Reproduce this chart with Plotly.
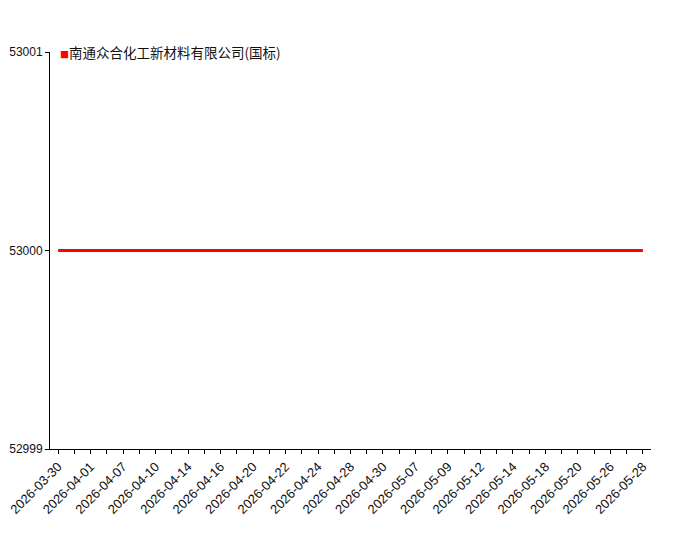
import plotly.graph_objects as go

# 37 trading dates (labelled every other tick in the reference)
dates = [
    "2026-03-30", "2026-03-31", "2026-04-01", "2026-04-03", "2026-04-07",
    "2026-04-08", "2026-04-10", "2026-04-13", "2026-04-14", "2026-04-15",
    "2026-04-16", "2026-04-17", "2026-04-20", "2026-04-21", "2026-04-22",
    "2026-04-23", "2026-04-24", "2026-04-27", "2026-04-28", "2026-04-29",
    "2026-04-30", "2026-05-06", "2026-05-07", "2026-05-08", "2026-05-09",
    "2026-05-11", "2026-05-12", "2026-05-13", "2026-05-14", "2026-05-15",
    "2026-05-18", "2026-05-19", "2026-05-20", "2026-05-25", "2026-05-26",
    "2026-05-27", "2026-05-28",
]
prices = [53000] * len(dates)
series_name = "南通众合化工新材料有限公司(国标)"
y_ticks = [52999, 53000, 53001]

tick_text = [d if i % 2 == 0 else "" for i, d in enumerate(dates)]

fig = go.Figure()
fig.add_trace(go.Scatter(
    x=dates, y=prices, name=series_name, mode="lines",
    line=dict(color="#ff0000", width=3),
    showlegend=False,
))

# legend-style label (small red square + name)
fig.add_annotation(
    xref="paper", yref="paper", x=0.013, y=1.0,
    xanchor="left", yanchor="middle", showarrow=False,
    text=f"<span style='color:#ff0000;font-size:9px'>■</span>{series_name}",
    font=dict(size=13.5, color="#111111", family="Noto Sans CJK SC"),
)

fig.update_layout(
    width=700, height=550,
    paper_bgcolor="white", plot_bgcolor="white",
    margin=dict(l=42, r=57, t=44, b=109),
    font=dict(family="Liberation Sans, Arial", size=12, color="#111111"),
    showlegend=False,
)
fig.update_xaxes(
    type="category", range=[-0.5, len(dates) - 0.5], automargin=False,
    tickvals=dates, ticktext=tick_text, tickangle=-45,
    ticks="outside", ticklen=4, tickcolor="#000000",
    showline=True, linecolor="#000000", linewidth=1,
    showgrid=False, zeroline=False,
    tickfont=dict(size=13, color="#111111"),
)
fig.update_yaxes(
    range=[y_ticks[0], y_ticks[-1]], tickvals=y_ticks, tickformat="d",
    automargin=False,
    ticks="outside", ticklen=4, tickcolor="#000000",
    showline=True, linecolor="#000000", linewidth=1,
    showgrid=False, zeroline=False,
    tickfont=dict(size=12, color="#111111"),
)

fig.write_html("out.html")
